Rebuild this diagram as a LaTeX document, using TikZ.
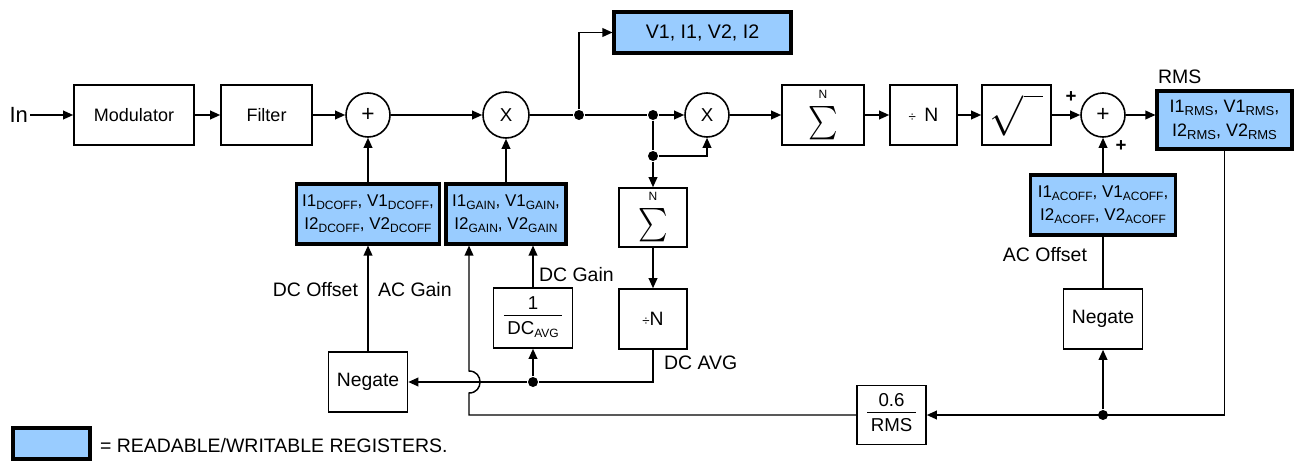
\documentclass[tikz,border=0pt]{standalone}
\usepackage{fontspec}
\setmainfont{Liberation Sans}
\usepackage{graphicx}
\usetikzlibrary{arrows.meta,calc}
\definecolor{regblue}{RGB}{153,204,255}
\newcommand\rsub[1]{\raisebox{-2.3pt}{\fontsize{9}{9}\selectfont #1}}
\newcommand\bigrsub[1]{\raisebox{-2.5pt}{\fontsize{9.75}{9.75}\selectfont #1}}
\newcommand\fracbox[2]{{\setlength\arrayrulewidth{0.9pt}\begin{tabular}{@{\hspace{2.5pt}}c@{\hspace{2.5pt}}}#1\\[-1pt]\hline\rule{0pt}{14pt}#2\end{tabular}}}
\newcommand\sumsym{{\fontsize{9}{9}\selectfont N}\\[5pt]\scalebox{2.1}[2.5]{$\sum$}}
\newcommand\sqrtsym{\scalebox{2.1}{$\sqrt{\vphantom{A}\hspace{7pt}}$}}
\begin{document}
\begin{tikzpicture}[x=0.75pt,y=-0.75pt,line width=1.1pt,
  blk/.style={draw, line width=1.2pt, minimum height=45pt, inner sep=2pt, align=center, font=\fontsize{13.5}{16}\selectfont},
  reg/.style={draw, line width=2.3pt, fill=regblue, inner sep=2pt, align=center, minimum height=45pt, font=\fontsize{12.75}{17.5}\selectfont},
  sumc/.style={circle, draw, line width=1.2pt, minimum size=33pt, inner sep=0pt, font=\fontsize{14}{16}\selectfont},
  dot/.style={circle, fill, inner sep=0pt, minimum size=7.5pt},
  lbl/.style={inner sep=1pt, font=\fontsize{14.6}{17}\selectfont},
  pls/.style={inner sep=0pt, font=\bfseries\fontsize{14}{14}\selectfont},
  arr/.style={-{Triangle[length=7.5pt,width=6.5pt]}}]
\useasboundingbox (0,0) rectangle (1294,460);

% main chain
\node[lbl, anchor=east, font=\fontsize{16.5}{18}\selectfont] (in) at (30,115) {In};
\node[blk, minimum width=90pt] (mod) at (134,115) {Modulator};
\node[blk, minimum width=68.25pt] (filt) at (266.5,115) {Filter};
\node[sumc, font=\fontsize{17}{17}\selectfont] (add1) at (368,115) {+};
\node[sumc, minimum size=34.5pt] (mul1) at (506,115) {X};
\node[dot] (j1) at (579,115) {};
\node[reg, minimum width=132.75pt, minimum height=30.75pt, font=\fontsize{14.7}{17}\selectfont] (vreg) at (702.5,32.5) {V1, I1, V2, I2};
\node[dot] (j2) at (653,115) {};
\node[dot] (j3) at (653,156) {};
\node[sumc] (mul2) at (707,115) {X};
\node[blk, minimum width=61.5pt, inner sep=0pt] (sigH) at (823,115) {\sumsym};
\node[blk, minimum width=50.25pt, font=\fontsize{14.5}{16}\selectfont] (divH) at (923.5,115) {{\fontsize{10}{10}\selectfont ÷}\, N};
\node[blk, minimum width=51.75pt] (sqrt) at (1016.5,115) {\sqrtsym};
\node[sumc, font=\fontsize{17}{17}\selectfont] (add2) at (1103,115) {+};
\node[reg, minimum width=101.25pt, minimum height=43.5pt, font=\fontsize{13.5}{18}\selectfont] (rms) at (1224.5,120) {I1\bigrsub{RMS}, V1\bigrsub{RMS},\\I2\bigrsub{RMS}, V2\bigrsub{RMS}};

% right feedback
\node[reg, minimum width=108.75pt] (acoff) at (1103,205) {I1\rsub{ACOFF}, V1\rsub{ACOFF},\\I2\rsub{ACOFF}, V2\rsub{ACOFF}};
\node[blk, minimum width=59.25pt, font=\fontsize{14.5}{16}\selectfont] (negR) at (1103,319) {Negate};
\node[dot] (jR) at (1103,415) {};
\node[blk, minimum width=51.75pt, minimum height=44.25pt, font=\fontsize{14}{16}\selectfont] (f06) at (891.5,415) {\fracbox{0.6}{RMS}};
\coordinate (cBL) at (469,415);
\coordinate (hopLo) at (469,393);
\coordinate (hopHi) at (469,371);

% left registers
\node[reg, minimum width=90pt] (gain) at (506,214) {I1\rsub{GAIN}, V1\rsub{GAIN},\\I2\rsub{GAIN}, V2\rsub{GAIN}};
\node[reg, minimum width=107.25pt] (dcoff) at (368,214) {I1\rsub{DCOFF}, V1\rsub{DCOFF},\\I2\rsub{DCOFF}, V2\rsub{DCOFF}};
\node[blk, minimum width=59.25pt, font=\fontsize{14.5}{16}\selectfont] (negL) at (368,382) {Negate};
\node[blk, minimum width=59.25pt, font=\fontsize{14}{16}\selectfont] (fdc) at (533,318) {\fracbox{1}{DC\rsub{AVG}}};
\node[dot] (jDC) at (533,382) {};
\node[blk, minimum width=51pt, minimum height=44.25pt, inner sep=0pt] (sigV) at (653,217.5) {\sumsym};
\node[blk, minimum width=51pt, font=\fontsize{14.5}{16}\selectfont] (divV) at (653,319) {{\fontsize{10}{10}\selectfont ÷}N};
\coordinate (cDV) at (653,382);

% labels
\node[lbl, anchor=east] (tDCO) at (360,290) {DC Offset};
\node[lbl, anchor=west] (tACG) at (376,290) {AC Gain};
\node[lbl, anchor=west] (tDCG) at (537,275) {DC Gain};
\node[lbl, anchor=west] (tDCA) at (662,363) {DC AVG};
\node[lbl, anchor=east] (tACO) at (1089,255) {AC Offset};
\node[lbl, anchor=west] (tRMS) at (1156,77) {RMS};
\node[pls] (p1) at (1071,97) {+};
\node[pls] (p2) at (1121,146) {+};

% legend
\node[reg, minimum width=57.75pt, minimum height=23.25pt] (leg) at (51.5,443.5) {};
\node[lbl, anchor=west] (legt) at (98,446) {= READABLE/WRITABLE REGISTERS.};

% connectors
\draw[arr] (in) -- (mod);
\draw[arr] (mod) -- (filt);
\draw[arr] (filt) -- (add1);
\draw[arr] (add1) -- (mul1);
\draw (mul1) -- (j1);
\draw (j1) -- (j2);
\draw[arr] (j2) -- (mul2);
\draw[arr] (j1) |- (vreg);
\draw (j2) -- (j3);
\draw[arr] (j3) -- (sigV);
\draw[arr] (j3) -| (mul2);
\draw[arr] (mul2) -- (sigH);
\draw[arr] (sigH) -- (divH);
\draw[arr] (divH) -- (sqrt);
\draw[arr] (sqrt) -- (add2);
\draw[arr] (add2) -- (add2 -| rms.west);
\draw[arr] (sigV) -- (divV);
\draw (divV) -- (cDV) -- (jDC);
\draw[arr] (jDC) -- (negL);
\draw[arr] (jDC) -- (fdc);
\draw[arr] (fdc) -- (fdc |- gain.south);
\draw[arr] (negL) -- (dcoff);
\draw[arr] (dcoff) -- (add1);
\draw[arr] (gain) -- (mul1);
\draw[arr] (acoff) -- (add2);
\draw (negR) -- (acoff);
\draw[arr] (rms.south) |- (f06);
\draw[arr] (jR) -- (negR);
\draw[arr] (f06) -- (cBL) -- (hopLo) .. controls +(14.7,0) and +(14.7,0) .. (hopHi) -- (hopHi |- gain.south);
\end{tikzpicture}
\end{document}
